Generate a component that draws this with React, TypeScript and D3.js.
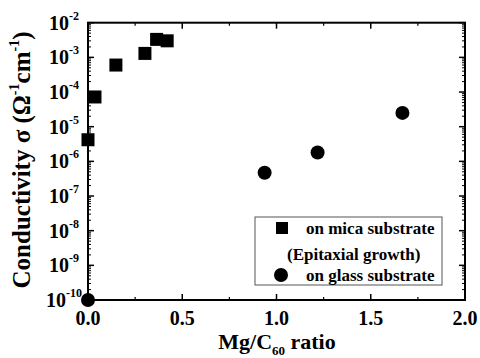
import React from "react";
import * as d3 from "d3";

const micaX = [0.0, 0.037, 0.148, 0.302, 0.364, 0.42];
const micaY = [4.2e-6, 7.2e-5, 6.0e-4, 1.3e-3, 3.3e-3, 3.0e-3];
const glassX = [0.0, 0.937, 1.218, 1.668];
const glassY = [1e-10, 4.7e-7, 1.8e-6, 2.5e-5];
const xTicks = [0, 0.5, 1.0, 1.5, 2.0];
const xTickLabels = ["0.0", "0.5", "1.0", "1.5", "2.0"];
const xMinor = [0.25, 0.75, 1.25, 1.75];
const yExps = [-2, -3, -4, -5, -6, -7, -8, -9, -10];
const legendLabels = ["on mica substrate", "(Epitaxial growth)", "on glass substrate"];

const W = 480, H = 358;
const L = 88, R = 465, T = 22.7, B = 300;
const FONT = "'Liberation Serif', 'Times New Roman', serif";

export default function App() {
  const x = d3.scaleLinear().domain([0, 2]).range([L, R]);
  const y = d3.scaleLog().domain([1e-10, 1e-2]).range([B, T]);
  const minorY: number[] = [];
  for (let e = -10; e < -2; e++) {
    for (let m = 2; m <= 9; m++) minorY.push(m * Math.pow(10, e));
  }
  const sq = 13;
  return (
    <svg width={W} height={H} style={{ position: "absolute", left: 0, top: 0, background: "#fff" }}
      fontFamily={FONT} fontWeight="bold">
      <rect x={0} y={0} width={W} height={H} fill="#fff" />
      {xTicks.map((t, i) => (
        <g key={"xt" + i}>
          <line x1={x(t)} x2={x(t)} y1={B} y2={B - 6} stroke="#000" strokeWidth={1.5} />
          <line x1={x(t)} x2={x(t)} y1={T} y2={T + 6} stroke="#000" strokeWidth={1.5} />
          <text x={x(t)} y={325} textAnchor="middle" fontSize={20}>{xTickLabels[i]}</text>
        </g>
      ))}
      {xMinor.map((t, i) => (
        <g key={"xm" + i}>
          <line x1={x(t)} x2={x(t)} y1={B} y2={B - 3} stroke="#000" strokeWidth={1.2} />
          <line x1={x(t)} x2={x(t)} y1={T} y2={T + 3} stroke="#000" strokeWidth={1.2} />
        </g>
      ))}
      {yExps.map((e) => {
        const v = Math.pow(10, e);
        return (
          <g key={"yt" + e}>
            <line x1={L} x2={L + 6} y1={y(v)} y2={y(v)} stroke="#000" strokeWidth={1.5} />
            <line x1={R} x2={R - 6} y1={y(v)} y2={y(v)} stroke="#000" strokeWidth={1.5} />
            <text x={64} y={y(v) + 7} textAnchor="middle" fontSize={20}>
              10<tspan fontSize={12} dy={-10}>{String(e)}</tspan>
            </text>
          </g>
        );
      })}
      {minorY.map((v, i) => (
        <g key={"ym" + i}>
          <line x1={L} x2={L + 3} y1={y(v)} y2={y(v)} stroke="#000" strokeWidth={1} />
          <line x1={R} x2={R - 3} y1={y(v)} y2={y(v)} stroke="#000" strokeWidth={1} />
        </g>
      ))}
      <rect x={L} y={T} width={R - L} height={B - T} fill="none" stroke="#000" strokeWidth={2} />
      <rect x={255} y={217} width={187} height={68} fill="#fff" stroke="#555" strokeWidth={1} />
      <rect x={276} y={222} width={sq - 1} height={sq - 1} fill="#000" />
      <text x={306} y={234} fontSize={17}>{legendLabels[0]}</text>
      <text x={287} y={260} fontSize={17}>{legendLabels[1]}</text>
      <circle cx={281} cy={275} r={7} fill="#000" />
      <text x={306} y={281} fontSize={17}>{legendLabels[2]}</text>
      {micaX.map((v, i) => (
        <rect key={"m" + i} x={x(v) - sq / 2} y={y(micaY[i]) - sq / 2} width={sq} height={sq} fill="#000" />
      ))}
      {glassX.map((v, i) => (
        <circle key={"g" + i} cx={x(v)} cy={y(glassY[i])} r={7} fill="#000" />
      ))}
      <text x={277} y={349} textAnchor="middle" fontSize={22}>
        Mg/C<tspan fontSize={13} dy={6}>60</tspan><tspan dy={-6}> ratio</tspan>
      </text>
      <text transform={`translate(30,160) rotate(-90)`} textAnchor="middle" fontSize={25}>
        Conductivity σ (Ω<tspan fontSize={14} dy={-11}>-1</tspan><tspan dy={11}>cm</tspan><tspan fontSize={14} dy={-11}>-1</tspan><tspan dy={11}>)</tspan>
      </text>
    </svg>
  );
}
